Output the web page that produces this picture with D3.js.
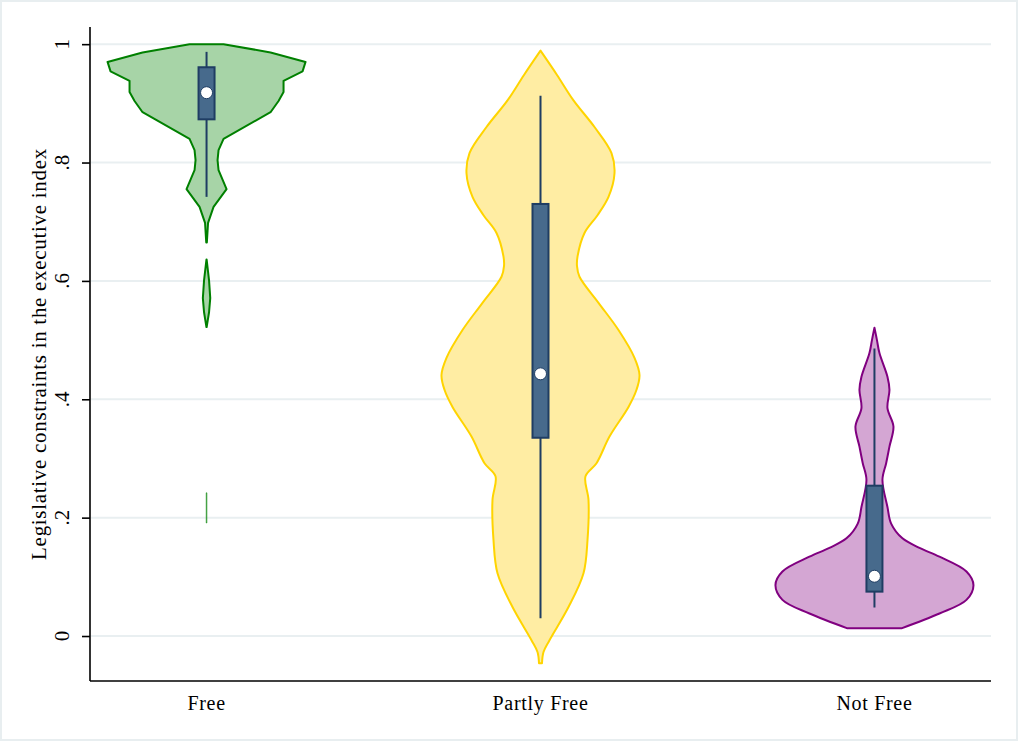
<!DOCTYPE html>
<html>
<head>
<meta charset="utf-8">
<script src="https://cdn.jsdelivr.net/npm/d3@7"></script>
<style>
  html, body { margin: 0; padding: 0; background: #fff; }
  svg { display: block; }
  text { font-family: "Liberation Serif", "Times New Roman", serif; fill: #000; }
</style>
</head>
<body>
<svg id="chart" width="1018" height="741"></svg>
<script>
// ---------------- data ----------------
const categories = ["Free", "Partly Free", "Not Free"];
const yTicks = [0, 0.2, 0.4, 0.6, 0.8, 1];
const yTickLabels = ["0", ".2", ".4", ".6", ".8", "1"];
const yTitle = "Legislative constraints in the executive index";

// violin density profiles (value, relative density); null = gap
const freeValues  = [1.000, 0.986, 0.970, 0.954, 0.938, 0.919, 0.904, 0.885, 0.840, 0.821, 0.804, 0.787, 0.755, 0.725, 0.698, 0.665, 0.650,
                     0.636, 0.601, 0.571, 0.547, 0.522, 0.400,
                     0.242, 0.191];
const freeDensity = [0.17, 0.64, 0.99, 0.96, 0.77, 0.77, 0.72, 0.64, 0.17, 0.12, 0.11, 0.12, 0.20, 0.07, 0.015, 0.003, null,
                     0.001, 0.025, 0.037, 0.025, 0.001, null,
                     0.003, 0.003];

const partlyValues  = [0.989, 0.948, 0.905, 0.860, 0.816, 0.782, 0.742, 0.711, 0.681, 0.641, 0.625, 0.607, 0.563, 0.517, 0.470, 0.441, 0.416, 0.387, 0.337, 0.292, 0.270, 0.230, 0.162, 0.106, 0.049, -0.007, -0.027, -0.046];
const partlyDensity = [0.00, 0.165, 0.33, 0.54, 0.71, 0.74, 0.68, 0.57, 0.44, 0.37, 0.365, 0.39, 0.58, 0.78, 0.94, 0.99, 0.96, 0.88, 0.69, 0.56, 0.45, 0.48, 0.47, 0.43, 0.28, 0.09, 0.03, 0.015];

const notValues  = [0.521, 0.500, 0.478, 0.438, 0.416, 0.385, 0.354, 0.320, 0.292, 0.264, 0.218, 0.190, 0.165, 0.149, 0.134, 0.109, 0.086, 0.061, 0.038, 0.013];
const notDensity = [0.00, 0.025, 0.05, 0.13, 0.15, 0.13, 0.19, 0.15, 0.117, 0.08, 0.13, 0.167, 0.28, 0.45, 0.65, 0.92, 0.99, 0.92, 0.65, 0.27];

// box plot statistics per category
const boxLow    = [0.742, 0.030, 0.048];
const boxQ1     = [0.873, 0.335, 0.075];
const boxMedian = [0.918, 0.443, 0.101];
const boxQ3     = [0.961, 0.730, 0.254];
const boxHigh   = [0.987, 0.913, 0.486];

// ---------------- styles ----------------
const violinFill   = ["#a7d4a7", "#ffeda3", "#d4a6d3"];
const violinStroke = ["#008000", "#ffd400", "#800080"];
const boxFill = "#476a8c", boxStroke = "#1f3d63";

// ---------------- layout ----------------
const svg = d3.select("#chart");
const plot = { left: 90, right: 991, top: 27, bottom: 681 };

const x = d3.scalePoint().domain(categories).range([plot.left, plot.right]).padding(0.349);
const y = d3.scaleLinear().domain([-0.076, 1.029]).range([plot.bottom, plot.top]);
const w = d3.scaleLinear().domain([0, 1]).range([0, 100]);

// outer frame
svg.append("rect").attr("x", 1).attr("y", 1).attr("width", 1016).attr("height", 739)
  .attr("fill", "#fff").attr("stroke", "#e8eef0").attr("stroke-width", 2);

// grid
svg.append("g").selectAll("line").data(yTicks).join("line")
  .attr("x1", plot.left + 1).attr("x2", plot.right)
  .attr("y1", d => y(d)).attr("y2", d => y(d))
  .attr("stroke", "#e9eff1").attr("stroke-width", 2);

// violins (split into contiguous segments at null densities)
const profiles = [
  d3.zip(freeValues, freeDensity),
  d3.zip(partlyValues, partlyDensity),
  d3.zip(notValues, notDensity)
];
profiles.forEach((prof, i) => {
  const cx = x(categories[i]);
  const segments = [];
  let cur = [];
  prof.forEach(d => {
    if (d[1] === null) { if (cur.length) segments.push(cur); cur = []; }
    else cur.push(d);
  });
  if (cur.length) segments.push(cur);
  const area = d3.area()
    .y(d => y(d[0]))
    .x0(d => cx - w(d[1]))
    .x1(d => cx + w(d[1]))
    .curve(i === 0 ? d3.curveLinear : d3.curveCatmullRom.alpha(0.5));
  segments.forEach(seg => {
    const thin = d3.max(seg, d => d[1]) < 0.01;
    svg.append("path").datum(seg)
      .attr("d", area)
      .attr("fill", violinFill[i])
      .attr("stroke", violinStroke[i])
      .attr("stroke-width", thin ? 1 : 2)
      .attr("stroke-opacity", thin ? 0.6 : 1)
      .attr("stroke-linejoin", "round");
  });
});

// box plots
const boxHalf = 8;
categories.forEach((c, i) => {
  const cx = x(c);
  const g = svg.append("g");
  g.append("line").attr("x1", cx).attr("x2", cx)
    .attr("y1", y(boxHigh[i])).attr("y2", y(boxLow[i]))
    .attr("stroke", boxStroke).attr("stroke-width", 2);
  g.append("rect")
    .attr("x", cx - boxHalf).attr("width", boxHalf * 2)
    .attr("y", y(boxQ3[i])).attr("height", y(boxQ1[i]) - y(boxQ3[i]))
    .attr("fill", boxFill).attr("stroke", boxStroke).attr("stroke-width", 2);
  g.append("circle").attr("cx", cx).attr("cy", y(boxMedian[i])).attr("r", 6)
    .attr("fill", "#fff").attr("stroke", boxStroke).attr("stroke-width", 1);
});

// axes
const yAxis = svg.append("g").attr("transform", `translate(${plot.left},0)`)
  .call(d3.axisLeft(y).tickValues(yTicks).tickSize(8).tickFormat(""));
yAxis.select(".domain").attr("d", `M0,${plot.top}V${plot.bottom}`).attr("stroke", "#000").attr("stroke-width", 1.6);
yAxis.selectAll(".tick line").attr("stroke", "#000").attr("stroke-width", 1.6);

svg.append("g").selectAll("text").data(yTicks).join("text")
  .attr("transform", (d) => `translate(69,${y(d)}) rotate(-90)`)
  .attr("text-anchor", "middle")
  .style("font-size", "21px")
  .text((d, i) => yTickLabels[i]);

const xAxis = svg.append("g").attr("transform", `translate(0,${plot.bottom})`)
  .call(d3.axisBottom(x).tickSize(0).tickPadding(0).tickFormat(""));
xAxis.select(".domain").attr("d", `M${plot.left},0H${plot.right}`).attr("stroke", "#000").attr("stroke-width", 1.6);

svg.append("g").selectAll("text").data(categories).join("text")
  .attr("x", d => x(d)).attr("y", 710)
  .attr("text-anchor", "middle")
  .style("font-size", "20px")
  .style("letter-spacing", "0.7px")
  .text(d => d);

svg.append("text")
  .attr("transform", `translate(46,${(plot.top + plot.bottom) / 2}) rotate(-90)`)
  .attr("text-anchor", "middle")
  .style("font-size", "21px")
  .style("letter-spacing", "0.7px")
  .text(yTitle);
</script>
</body>
</html>
